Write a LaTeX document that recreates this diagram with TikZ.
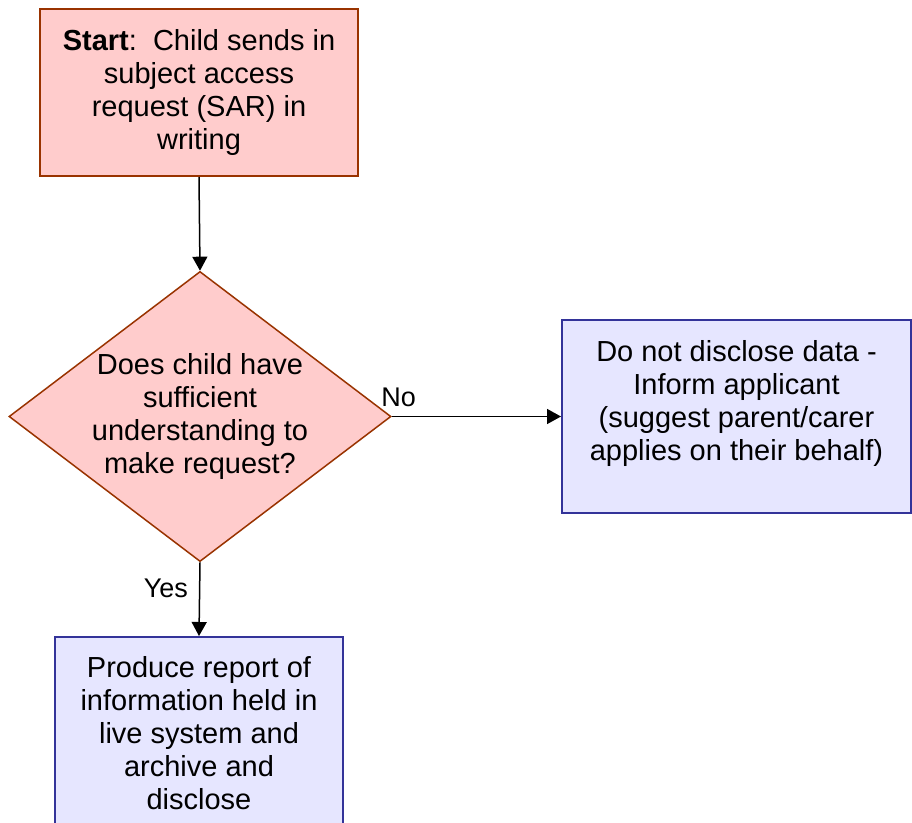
\documentclass[tikz,border=0pt]{standalone}
\usepackage{fontspec}
\setmainfont{Liberation Sans}
\usepackage{tikz}
\usetikzlibrary{shapes.geometric,arrows.meta}
\definecolor{sarPink}{HTML}{FFCCCC}
\definecolor{sarBrown}{HTML}{993300}
\definecolor{sarLilac}{HTML}{E6E6FF}
\definecolor{sarNavy}{HTML}{333399}

\tikzset{
  flowtext/.style={font=\fontsize{29}{33}\selectfont, align=center},
  startbox/.style={flowtext, draw=sarBrown, fill=sarPink, line width=2pt,
    minimum width=318pt, minimum height=167pt, inner sep=0pt},
  askbox/.style={flowtext, diamond, aspect=1.317, draw=sarBrown, fill=sarPink,
    line width=1.5pt, minimum width=378pt, minimum height=287pt, inner sep=0pt},
  actbox/.style={flowtext, draw=sarNavy, fill=sarLilac, line width=2pt,
    minimum height=193pt, inner sep=0pt},
  flowarrow/.style={-{Triangle[length=14pt,width=15pt]}, line width=1.5pt, black},
  edgelabel/.style={font=\fontsize{27}{30}\selectfont, inner sep=3pt}
}

\begin{document}
\begin{tikzpicture}[x=1pt, y=-1pt]
  \clip (0,0) rectangle (912,822);
  \fill[white] (0,0) rectangle (912,822);
  \node[startbox] (start) at (199,92.5)
    {\textbf{Start}:~~Child sends in\\subject access\\request (SAR) in\\writing};
  \node[askbox] (ask) at (200,416.5)
    {Does child have\\sufficient\\understanding to\\make request?};
  \node[actbox, minimum width=349pt] (refuse) at (736.5,416.5)
    {Do not disclose data -\\Inform applicant\\(suggest parent/carer\\applies on their behalf)\\\mbox{}};
  \node[actbox, minimum width=288pt, minimum height=192pt] (disclose) at (199,733)
    {Produce report of\\information held in\\live system and\\archive and\\disclose};
  \draw[flowarrow] (start.south) -- (ask.north);
  \draw[flowarrow] (ask.east) -- (refuse.west)
    node[edgelabel, pos=0.04, above, yshift=6pt] {No};
  \draw[flowarrow] (ask.south) -- (disclose.north)
    node[edgelabel, pos=0.35, left, xshift=-8pt] {Yes};
\end{tikzpicture}
\end{document}
